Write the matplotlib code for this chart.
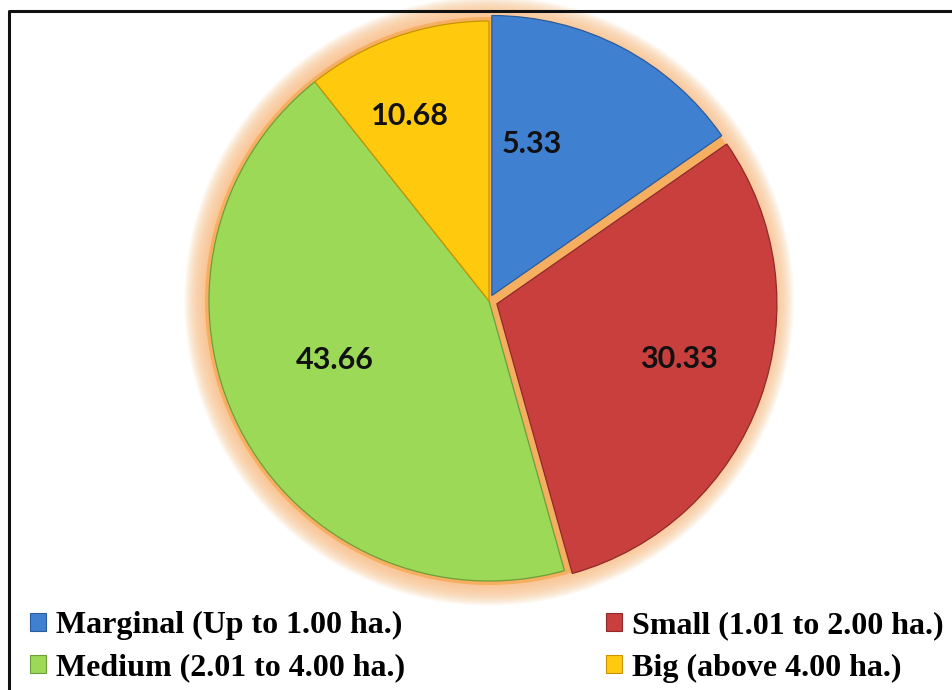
import numpy as np
import matplotlib
matplotlib.use("Agg")
import matplotlib.pyplot as plt
import matplotlib.patches as patches
from matplotlib.lines import Line2D

# slice shares as drawn and the printed labels
categories = ["Marginal (Up to 1.00 ha.)", "Small (1.01 to 2.00 ha.)",
              "Medium (2.01 to 4.00 ha.)", "Big (above 4.00 ha.)"]
shares = [15.33, 30.33, 43.66, 10.68]
printed = ["5.33", "30.33", "43.66", "10.68"]

colors = ["#4080D0", "#C83F3E", "#9BD957", "#FFC90E"]
edges = ["#2B5C9A", "#8E2A2A", "#6E9E3A", "#C89500"]
explode_frac = [0.022, 0.03, 0.0, 0.0]

W, H = 952, 690
cx, cy, R = 489, H - 301, 280

fig = plt.figure(figsize=(W / 100, H / 100), dpi=100)
ax = fig.add_axes([0, 0, 1, 1])

# orange glow behind the pie
for k in range(18, 0, -1):
    ax.add_patch(patches.Circle((cx, cy), R + 3 + k * 1.2, color="#F9BE85",
                                alpha=0.09, lw=0, zorder=0))
ax.add_patch(patches.Circle((cx, cy), R + 4, color="#F6AE60", lw=0, zorder=1))

# pie's explode is in data units, so scale by the radius
wedges, _ = ax.pie(shares, colors=colors, startangle=90, counterclock=False,
                   explode=[e * R for e in explode_frac], center=(cx, cy),
                   radius=R, wedgeprops=dict(linewidth=0.9))
for w, ec in zip(wedges, edges):
    w.set_edgecolor(ec)
    w.set_zorder(2)

# label placement: wedge mid angle plus a small nudge
nudge_deg = [13, 3, -6, 4]
rad_frac = [0.56, 0.68, 0.59, 0.72]
for w, txt, nd, rf in zip(wedges, printed, nudge_deg, rad_frac):
    ang = np.deg2rad((w.theta1 + w.theta2) / 2 + nd)
    x0, y0 = w.center
    ax.text(x0 + rf * R * np.cos(ang), y0 + rf * R * np.sin(ang), txt,
            ha="center", va="center", fontsize=22, fontweight="bold",
            family="Lato", color="#111111", zorder=5)

ax.set_xlim(0, W)
ax.set_ylim(0, H)
ax.set_aspect("equal")
ax.axis("off")

# legend, rows: Marginal/Small, Medium/Big
order = [0, 2, 1, 3]
handles = [patches.Patch(facecolor=colors[i], edgecolor=edges[i], lw=0.8,
                         label=categories[i]) for i in order]
fig.legend(handles=handles, ncol=2, loc="lower left",
           bbox_to_anchor=(8 / W, -15 / H), frameon=False,
           prop=dict(family="Liberation Serif", weight="bold", size=23),
           handlelength=0.5, handleheight=0.5, handletextpad=0.3,
           columnspacing=6.3, labelspacing=0.42, borderpad=0.2)

# picture frame (only top and left visible)
fig.add_artist(Line2D([9 / W, 9 / W, 1.0], [0.0, 1 - 11 / H, 1 - 11 / H],
                      transform=fig.transFigure, color="#111111", lw=2.2))

fig.savefig("out.png", dpi=100)
